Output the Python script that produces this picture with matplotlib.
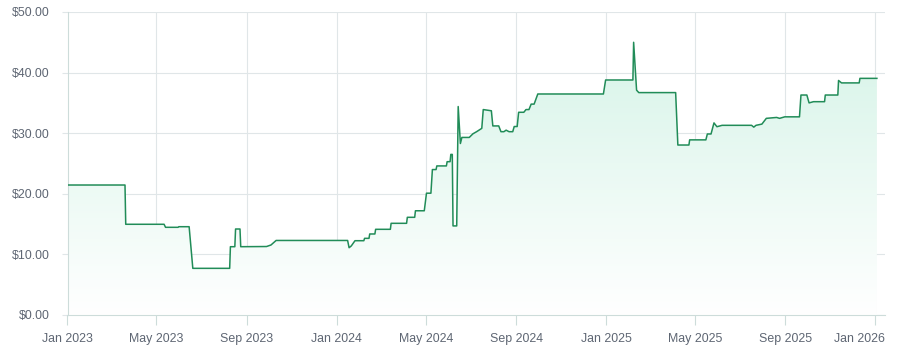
import numpy as np
import pandas as pd
import matplotlib
matplotlib.use('Agg')
import matplotlib.pyplot as plt
import matplotlib.dates as mdates
from matplotlib.colors import LinearSegmentedColormap
from matplotlib.transforms import ScaledTranslation

plt.rcParams['font.family'] = ['Liberation Sans', 'DejaVu Sans']

# Price history
dates = [
    '2023-01-02', '2023-03-20', '2023-03-21', '2023-05-12', '2023-05-14',
    '2023-05-31', '2023-06-01', '2023-06-15', '2023-06-20', '2023-08-09',
    '2023-08-10', '2023-08-16', '2023-08-17', '2023-08-23', '2023-08-24',
    '2023-09-28', '2023-10-04', '2023-10-11', '2024-01-16', '2024-01-18',
    '2024-01-21', '2024-01-26', '2024-02-07', '2024-02-08', '2024-02-14',
    '2024-02-15', '2024-02-22', '2024-02-23', '2024-03-14', '2024-03-15',
    '2024-04-05', '2024-04-06', '2024-04-16', '2024-04-17', '2024-04-29',
    '2024-05-02', '2024-05-08', '2024-05-10', '2024-05-15', '2024-05-16',
    '2024-05-29', '2024-05-30', '2024-06-03', '2024-06-04', '2024-06-06',
    '2024-06-07', '2024-06-12', '2024-06-14', '2024-06-17', '2024-06-19',
    '2024-06-29', '2024-07-04', '2024-07-09', '2024-07-16', '2024-07-18',
    '2024-07-29', '2024-07-31', '2024-08-08', '2024-08-11', '2024-08-15',
    '2024-08-18', '2024-08-22', '2024-08-27', '2024-08-29', '2024-09-02',
    '2024-09-04', '2024-09-11', '2024-09-14', '2024-09-18', '2024-09-21',
    '2024-09-25', '2024-09-30', '2024-12-28', '2024-12-31', '2025-02-06',
    '2025-02-07', '2025-02-11', '2025-02-14', '2025-04-05', '2025-04-08',
    '2025-04-23', '2025-04-24', '2025-05-16', '2025-05-18', '2025-05-23',
    '2025-05-27', '2025-05-31', '2025-06-07', '2025-07-17', '2025-07-20',
    '2025-07-23', '2025-07-31', '2025-08-06', '2025-08-20', '2025-08-24',
    '2025-08-31', '2025-09-20', '2025-09-22', '2025-09-30', '2025-10-03',
    '2025-10-09', '2025-10-24', '2025-10-25', '2025-11-11', '2025-11-12',
    '2025-11-16', '2025-12-10', '2025-12-11', '2026-01-03',
]
prices = [
    21.45, 21.45, 14.97, 14.97, 14.47,
    14.47, 14.57, 14.57, 7.70, 7.70,
    11.27, 11.27, 14.19, 14.19, 11.27,
    11.30, 11.55, 12.30, 12.30, 11.10,
    11.40, 12.26, 12.26, 12.65, 12.65,
    13.37, 13.37, 14.14, 14.14, 15.13,
    15.13, 16.12, 16.12, 17.20, 17.20,
    20.10, 20.10, 24.00, 24.00, 24.60,
    24.60, 25.30, 25.30, 26.50, 26.50,
    14.70, 14.70, 34.40, 28.30, 29.30,
    29.30, 29.90, 30.25, 30.80, 33.90,
    33.70, 31.20, 31.20, 30.25, 30.25,
    30.50, 30.25, 30.25, 31.10, 31.10,
    33.45, 33.45, 33.90, 33.90, 34.80,
    34.80, 36.47, 36.47, 38.78, 38.78,
    45.00, 37.10, 36.70, 36.70, 28.05,
    28.05, 28.90, 28.90, 29.87, 29.87,
    31.70, 31.07, 31.30, 31.30, 31.00,
    31.30, 31.50, 32.45, 32.60, 32.45,
    32.70, 32.70, 36.30, 36.30, 35.00,
    35.20, 35.20, 36.30, 36.30, 38.70,
    38.30, 38.30, 39.05, 39.05,
]
x_ticks = ['2023-01-01', '2023-05-01', '2023-09-01', '2024-01-01', '2024-05-01',
           '2024-09-01', '2025-01-01', '2025-05-01', '2025-09-01', '2026-01-01']
y_ticks = [0, 10, 20, 30, 40, 50]

x = mdates.date2num(pd.to_datetime(dates))
xt = mdates.date2num(pd.to_datetime(x_ticks))
x0 = mdates.date2num(pd.Timestamp('2023-01-01'))
x1 = mdates.date2num(pd.Timestamp('2026-01-14'))

grid_c = '#e0e6e8'
axis_c = '#cddcda'
text_c = '#5e6673'

fig = plt.figure(figsize=(9, 3.53), dpi=100)
ax = fig.add_axes([0.075, 0.10765, 0.90833, 0.85836])

# gradient fill under the line
grad = np.linspace(0, 1, 256).reshape(-1, 1)
cmap = LinearSegmentedColormap.from_list('mint', ['#ffffff', '#d3f3e6'])
im = ax.imshow(grad, cmap=cmap, aspect='auto', origin='lower',
               extent=[x0, x1, 0, 50], zorder=1)
poly = ax.fill_between(x, prices, 0, color='none', lw=0)
im.set_clip_path(poly.get_paths()[0], transform=ax.transData)

ax.plot(x, prices, color='#218c58', lw=1.1, zorder=3)

ax.set_xlim(x0, x1)
ax.set_ylim(0, 50)
ax.set_xticks(xt)
ax.set_xticklabels([pd.Timestamp(t).strftime('%b %Y') for t in x_ticks])
ax.set_yticks(y_ticks)
ax.set_yticklabels(['${:.2f}'.format(v) for v in y_ticks])

ax.grid(True, color=grid_c, lw=0.8, zorder=0)
ax.set_axisbelow(True)
for s in ['top', 'right']:
    ax.spines[s].set_visible(False)
for s in ['left', 'bottom']:
    ax.spines[s].set_color(axis_c)
    ax.spines[s].set_linewidth(0.8)

ax.tick_params(axis='y', length=4.3, width=0.8, color=grid_c, pad=8.3,
               labelsize=8.9, labelcolor=text_c)
ax.tick_params(axis='x', length=7.2, width=0.8, color=axis_c, pad=5.5,
               labelsize=8.9, labelcolor=text_c)

# last date label is pushed inside the canvas
last = ax.get_xticklabels()[-1]
last.set_horizontalalignment('right')
last.set_transform(last.get_transform() + ScaledTranslation(0.09, 0, fig.dpi_scale_trans))

fig.savefig('out.png', dpi=100)
